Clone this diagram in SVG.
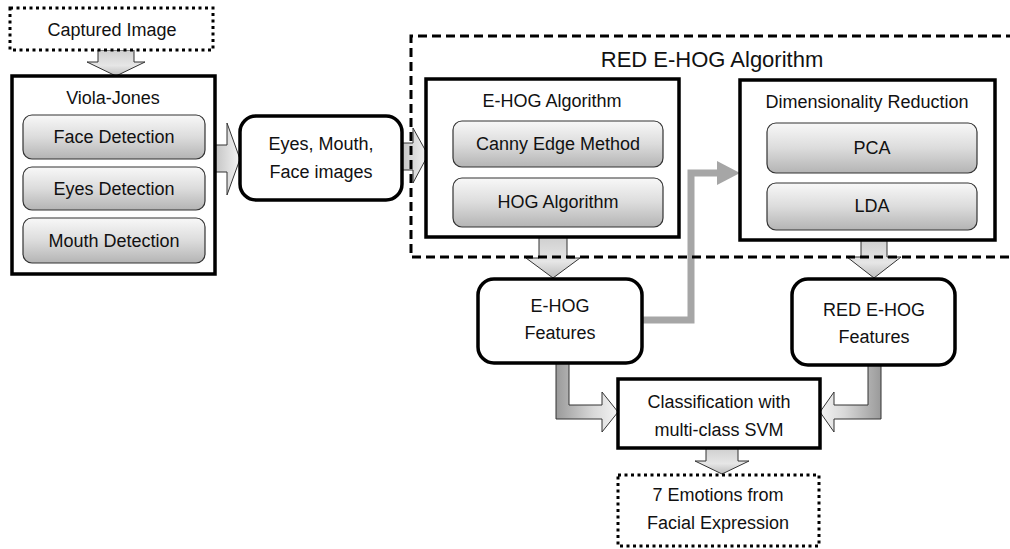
<svg xmlns="http://www.w3.org/2000/svg" width="1010" height="549" viewBox="0 0 1010 549">
<defs>
<linearGradient id="gInner" x1="0" y1="0" x2="0" y2="1">
<stop offset="0" stop-color="#f8f8f8"/>
<stop offset="0.5" stop-color="#dcdcdc"/>
<stop offset="1" stop-color="#b4b4b4"/>
</linearGradient>
<linearGradient id="gDown" x1="0" y1="0" x2="0" y2="1">
<stop offset="0" stop-color="#cfcfcf"/>
<stop offset="0.6" stop-color="#e6e6e6"/>
<stop offset="1" stop-color="#bcbcbc"/>
</linearGradient>
<linearGradient id="gRight" x1="0" y1="0" x2="1" y2="0">
<stop offset="0" stop-color="#c4c4c4"/>
<stop offset="1" stop-color="#f4f4f4"/>
</linearGradient>
<linearGradient id="gBentL" x1="0" y1="0" x2="1" y2="0">
<stop offset="0" stop-color="#9a9a9a"/>
<stop offset="0.6" stop-color="#d8d8d8"/>
<stop offset="1" stop-color="#f4f4f4"/>
</linearGradient>
<linearGradient id="gBentR" x1="1" y1="0" x2="0" y2="0">
<stop offset="0" stop-color="#9a9a9a"/>
<stop offset="0.6" stop-color="#d8d8d8"/>
<stop offset="1" stop-color="#f4f4f4"/>
</linearGradient>
<style>
text{font-family:"Liberation Sans",Arial,sans-serif;font-size:18px;fill:#111;text-anchor:middle}
.big{font-size:22px}
.main{fill:#fff;stroke:#000;stroke-width:3.5}
.inner{fill:url(#gInner);stroke:#333;stroke-width:1.2}
.dotted{fill:#fff;stroke:#000;stroke-width:3;stroke-dasharray:3 3.5}
.dashed{fill:none;stroke:#000;stroke-width:3;stroke-dasharray:9 5}
.blk{stroke:#333;stroke-width:1}
.gray{fill:none;stroke:#a6a6a6;stroke-width:7}
</style>
</defs>
<rect width="1010" height="549" fill="#fff"/>

<g id="connectors">
<path class="blk" fill="url(#gDown)" d="M98,50 H134 V62 H145 L116,76 L87,62 H98 Z"/>
<path class="blk" fill="url(#gRight)" d="M215,145 H227 V123 L240,159 L227,195 V172 H215 Z"/>
<path class="blk" fill="url(#gRight)" d="M402,143 H413 V128 L428,155 L413,183 V170 H402 Z"/>
<path class="blk" fill="url(#gDown)" d="M539,237 H567 V258 H580 L553,278 L526,258 H539 Z"/>
<path class="blk" fill="url(#gDown)" d="M861,240 H887 V257 H901 L874,278 L847,257 H861 Z"/>
<path class="blk" fill="url(#gDown)" d="M706,448 H738 V461 H749 L722,474 L695,461 H706 Z"/>
<path class="blk" fill="url(#gBentL)" d="M556,363 H569 V405 H602 V392 L618,412 L602,432 V419 H556 Z"/>
<path class="blk" fill="url(#gBentR)" d="M881,365 H868 V405 H834 V392 L820,412 L834,432 V419 H881 Z"/>
<path class="gray" d="M642,320 H691 V173 H719"/>
<polygon fill="#a6a6a6" points="717,161 740,173 717,185"/>
</g>

<g id="captured-image">
<rect class="dotted" x="10" y="8" width="203" height="42"/>
<text x="112" y="36">Captured Image</text>
</g>

<g id="viola-jones">
<rect class="main" x="12" y="76" width="203" height="198"/>
<text x="113" y="104">Viola-Jones</text>
</g>
<g id="face-detection">
<rect class="inner" x="23" y="115" width="182" height="44" rx="9"/>
<text x="114" y="143">Face Detection</text>
</g>
<g id="eyes-detection">
<rect class="inner" x="23" y="167" width="182" height="43" rx="9"/>
<text x="114" y="195">Eyes Detection</text>
</g>
<g id="mouth-detection">
<rect class="inner" x="23" y="218" width="182" height="45" rx="9"/>
<text x="114" y="247">Mouth Detection</text>
</g>

<g id="eyes-mouth-face">
<rect class="main" x="240" y="116" width="162" height="84" rx="16"/>
<text x="321" y="150">Eyes, Mouth,</text>
<text x="321" y="178">Face images</text>
</g>

<g id="red-ehog-algorithm">
<path class="dashed" d="M1015,36 H411 V257 H1015"/>
<text class="big" x="712" y="67">RED E-HOG Algorithm</text>
</g>

<g id="ehog-algorithm">
<rect class="main" x="426" y="79" width="253" height="158"/>
<text x="552" y="107">E-HOG Algorithm</text>
</g>
<g id="canny-edge">
<rect class="inner" x="453" y="121" width="210" height="46" rx="9"/>
<text x="558" y="150">Canny Edge Method</text>
</g>
<g id="hog-algorithm">
<rect class="inner" x="453" y="178" width="210" height="49" rx="9"/>
<text x="558" y="208">HOG Algorithm</text>
</g>

<g id="dimensionality-reduction">
<rect class="main" x="740" y="80" width="255" height="160"/>
<text x="867" y="108">Dimensionality Reduction</text>
</g>
<g id="pca">
<rect class="inner" x="767" y="123" width="210" height="50" rx="9"/>
<text x="872" y="154">PCA</text>
</g>
<g id="lda">
<rect class="inner" x="767" y="183" width="210" height="47" rx="9"/>
<text x="872" y="212">LDA</text>
</g>

<g id="ehog-features">
<rect class="main" x="478" y="279" width="164" height="84" rx="16"/>
<text x="560" y="312">E-HOG</text>
<text x="560" y="339">Features</text>
</g>

<g id="red-ehog-features">
<rect class="main" x="792" y="279" width="163" height="86" rx="16"/>
<text x="874" y="316">RED E-HOG</text>
<text x="874" y="343">Features</text>
</g>

<g id="classification">
<rect class="main" x="618" y="379" width="202" height="69"/>
<text x="719" y="408">Classification with</text>
<text x="719" y="436">multi-class SVM</text>
</g>

<g id="emotions">
<rect class="dotted" x="618" y="475" width="201" height="71"/>
<text x="718" y="501">7 Emotions from</text>
<text x="718" y="529">Facial Expression</text>
</g>
</svg>
